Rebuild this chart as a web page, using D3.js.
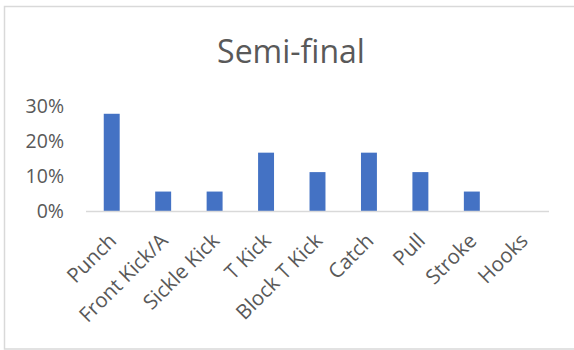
<!DOCTYPE html>
<html>
<head>
<meta charset="utf-8">
<script src="https://cdn.jsdelivr.net/npm/d3@7"></script>
<style>
  body { margin: 0; background: #fff; }
  text { font-family: "Open Sans", "Noto Sans", sans-serif; fill: #595959; }
</style>
</head>
<body>
<svg id="chart"></svg>
<script>
// data (counts out of 18 moves)
const moves = ["Punch", "Front Kick/A", "Sickle Kick", "T Kick", "Block T Kick", "Catch", "Pull", "Stroke", "Hooks"];
const shares = [5/18, 1/18, 1/18, 3/18, 2/18, 3/18, 2/18, 1/18, 0];
const yTicks = [0, 0.1, 0.2, 0.3];
const chartTitle = "Semi-final";

var W = 574, H = 350;
var svg = d3.select("#chart").attr("width", W).attr("height", H);

// chart frame
svg.append("rect")
    .attr("x", 4.5).attr("y", 6.5)
    .attr("width", 600).attr("height", 342.5)
    .attr("fill", "none").attr("stroke", "#d9d9d9").attr("stroke-width", 1.5);

var x = d3.scaleBand().domain(moves).range([86, 549]).paddingInner(0.69).paddingOuter(0.345);
var y = d3.scaleLinear().domain([0, 0.3]).range([211, 106]);

svg.append("text")
    .attr("x", 291).attr("y", 63)
    .attr("text-anchor", "middle")
    .attr("font-size", 32)
    .text(chartTitle);

// y axis labels only, no line
var yAxis = svg.append("g")
    .attr("transform", "translate(64,0)")
    .call(d3.axisLeft(y).tickValues(yTicks).tickFormat(d3.format(".0%")).tickSize(0).tickPadding(0));
yAxis.select(".domain").remove();
yAxis.selectAll("text").attr("font-size", 19.5).attr("fill", "#595959");

svg.selectAll("rect.bar")
    .data(moves)
    .enter()
    .append("rect")
    .attr("class", "bar")
    .attr("x", function(d){ return x(d); })
    .attr("y", function(d, i){ return y(shares[i]); })
    .attr("width", x.bandwidth())
    .attr("height", function(d, i){ return y(0) - y(shares[i]); })
    .attr("fill", "#4472c4");

// x axis
var xAxis = svg.append("g")
    .attr("transform", "translate(0," + y(0) + ")")
    .call(d3.axisBottom(x).tickSize(0).tickPadding(0));
xAxis.select(".domain").attr("stroke", "#d9d9d9").attr("stroke-width", 1.5)
    .attr("d", "M86,0.5H549");
xAxis.selectAll(".tick text")
    .attr("font-size", 20.5)
    .attr("fill", "#595959")
    .attr("text-anchor", "end")
    .attr("dy", 0)
    .attr("y", 0)
    .attr("transform", "translate(6,31) rotate(-45)");
</script>
</body>
</html>
